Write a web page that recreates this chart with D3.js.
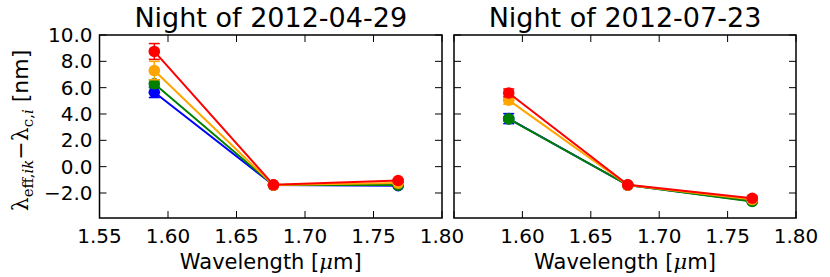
<!DOCTYPE html>
<html>
<head>
<meta charset="utf-8">
<script src="https://cdn.jsdelivr.net/npm/d3@7"></script>
<style>
  body { margin: 0; background: #fff; }
  text { font-family: "DejaVu Sans", sans-serif; fill: #000; }
  .math { font-family: "DejaVu Serif", serif; }
</style>
</head>
<body>
<div id="chart"></div>
<script>
// wavelengths of the three points
let wavelengths = [1.590, 1.677, 1.768];

let seriesColors = ['#0000ff', '#008000', '#ffa500', '#ff0000'];

// night 1 values [nm] per colour (blue, green, orange, red)
let night1Values = [
    [5.65, -1.40, -1.45],
    [6.30, -1.40, -1.40],
    [7.30, -1.40, -1.25],
    [8.75, -1.38, -1.05]
];
let night1Errors = [
    [0.40, 0.05, 0.05],
    [0.30, 0.05, 0.05],
    [0.70, 0.05, 0.05],
    [0.60, 0.05, 0.10]
];

// night 2 values [nm]
let night2Values = [
    [3.65, -1.40, -2.60],
    [3.63, -1.40, -2.64],
    [5.05, -1.40, -2.50],
    [5.60, -1.38, -2.40]
];
let night2Errors = [
    [0.38, 0.05, 0.05],
    [0.15, 0.05, 0.05],
    [0.30, 0.05, 0.10],
    [0.30, 0.05, 0.15]
];

let titles = ['Night of 2012-04-29', 'Night of 2012-07-23'];
let xTicks = [1.55, 1.60, 1.65, 1.70, 1.75, 1.80];
let yTicks = [-2, 0, 2, 4, 6, 8, 10];

let width = 830, height = 277;
let svg = d3.select('#chart').append('svg')
    .attr('width', width)
    .attr('height', height);

let plotTop = 35, plotBottom = 218;
let panels = [
    { left: 99.5, right: 442, values: night1Values, errors: night1Errors, title: titles[0], yLabels: true, firstX: true },
    { left: 454, right: 796, values: night2Values, errors: night2Errors, title: titles[1], yLabels: false, firstX: false }
];

let y = d3.scaleLinear().domain([-3.9, 10]).range([plotBottom, plotTop]);

panels.forEach(function(p) {
    let x = d3.scaleLinear().domain([1.55, 1.80]).range([p.left, p.right]);
    let g = svg.append('g');

    // data
    let line = d3.line()
        .x(function(d, i) { return x(wavelengths[i]); })
        .y(function(d) { return y(d); });

    p.values.forEach(function(vals, s) {
        let color = seriesColors[s];
        let sg = g.append('g');
        sg.append('path')
            .attr('d', line(vals))
            .attr('fill', 'none')
            .attr('stroke', color)
            .attr('stroke-width', 2);
        vals.forEach(function(v, i) {
            let cx = x(wavelengths[i]);
            let e = p.errors[s][i];
            sg.append('line')
                .attr('x1', cx).attr('x2', cx)
                .attr('y1', y(v - e)).attr('y2', y(v + e))
                .attr('stroke', color).attr('stroke-width', 1.5);
            [v - e, v + e].forEach(function(c) {
                sg.append('line')
                    .attr('x1', cx - 5.5).attr('x2', cx + 5.5)
                    .attr('y1', y(c)).attr('y2', y(c))
                    .attr('stroke', color).attr('stroke-width', 1.5);
            });
            sg.append('circle')
                .attr('cx', cx).attr('cy', y(v))
                .attr('r', 5.8)
                .attr('fill', color);
        });
    });

    // ticks inside on all four sides
    let ticks = g.append('g').attr('stroke', '#000').attr('stroke-width', 1);
    xTicks.forEach(function(t) {
        ticks.append('line').attr('x1', x(t)).attr('x2', x(t)).attr('y1', plotBottom).attr('y2', plotBottom - 7);
        ticks.append('line').attr('x1', x(t)).attr('x2', x(t)).attr('y1', plotTop).attr('y2', plotTop + 7);
    });
    yTicks.forEach(function(t) {
        ticks.append('line').attr('x1', p.left).attr('x2', p.left + 7).attr('y1', y(t)).attr('y2', y(t));
        ticks.append('line').attr('x1', p.right).attr('x2', p.right - 7).attr('y1', y(t)).attr('y2', y(t));
    });

    g.append('rect')
        .attr('x', p.left).attr('y', plotTop)
        .attr('width', p.right - p.left).attr('height', plotBottom - plotTop)
        .attr('fill', 'none').attr('stroke', '#000').attr('stroke-width', 1.5);

    // tick labels
    xTicks.forEach(function(t, i) {
        if (i == 0 && !p.firstX) return;
        g.append('text')
            .attr('x', x(t)).attr('y', 243)
            .attr('text-anchor', 'middle')
            .style('font-size', '20px')
            .text(d3.format('.2f')(t));
    });
    if (p.yLabels) {
        yTicks.forEach(function(t) {
            g.append('text')
                .attr('x', p.left - 7).attr('y', y(t) + 7)
                .attr('text-anchor', 'end')
                .style('font-size', '20px')
                .text(d3.format('.1f')(t));
        });
    }

    g.append('text')
        .attr('x', (p.left + p.right) / 2).attr('y', 27)
        .attr('text-anchor', 'middle')
        .style('font-size', '27px')
        .text(p.title);

    let xl = g.append('text')
        .attr('x', (p.left + p.right) / 2).attr('y', 269)
        .attr('text-anchor', 'middle')
        .style('font-size', '21px');
    xl.append('tspan').text('Wavelength [');
    xl.append('tspan').attr('class', 'math').style('font-style', 'italic').text('μ');
    xl.append('tspan').text('m]');
});

// y axis label
let yl = svg.append('text')
    .attr('transform', 'translate(28,' + ((plotTop + plotBottom) / 2 + 4) + ') rotate(-90)')
    .attr('text-anchor', 'middle')
    .attr('class', 'math')
    .style('font-size', '22px');
yl.append('tspan').text('λ');
yl.append('tspan').attr('dy', 5).style('font-size', '15px').text('eff,');
yl.append('tspan').style('font-size', '15px').style('font-style', 'italic').text('ik');
yl.append('tspan').attr('dy', -5).text('−λ');
yl.append('tspan').attr('dy', 5).style('font-size', '15px').text('c,');
yl.append('tspan').style('font-size', '15px').style('font-style', 'italic').text('i');
yl.append('tspan').attr('dy', -5).attr('dx', 7).style('font-family', '"DejaVu Sans", sans-serif').text('[nm]');
</script>
</body>
</html>
